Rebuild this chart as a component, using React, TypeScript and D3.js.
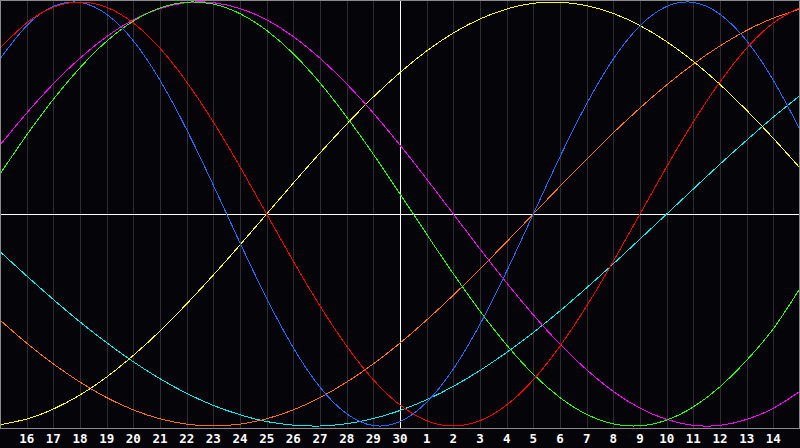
import React from "react";
import * as d3 from "d3";

// Day labels: index 0 is the 15th (left edge), index 30 the 15th of next month (right edge)
const dayLabels = [
  "15", "16", "17", "18", "19", "20", "21", "22", "23", "24", "25", "26", "27", "28", "29", "30",
  "1", "2", "3", "4", "5", "6", "7", "8", "9", "10", "11", "12", "13", "14", "15",
];
const todayIndex = 15;

// Values (-100..100) read at each day index 0..30
const red = [78.2, 90.1, 97.5, 100, 97.5, 90.1, 78.2, 62.3, 43.4, 22.3, 0, -22.3, -43.4, -62.3, -78.2, -90.1, -97.5, -100, -97.5, -90.1, -78.2, -62.3, -43.4, -22.3, 0, 22.3, 43.4, 62.3, 78.2, 90.1, 97.5];
const blue = [73.1, 88.8, 97.9, 99.8, 94.2, 81.7, 63.1, 39.8, 13.6, -13.6, -39.8, -63.1, -81.7, -94.2, -99.8, -97.9, -88.8, -73.1, -52.0, -27.0, 0, 27.0, 52.0, 73.1, 88.8, 97.9, 99.8, 94.2, 81.7, 63.1, 39.8];
const green = [18.9, 37.2, 54.1, 69.0, 81.5, 91.0, 97.2, 99.9, 99.0, 94.5, 86.6, 75.6, 61.8, 45.8, 28.2, 9.5, -9.5, -28.2, -45.8, -61.8, -75.6, -86.6, -94.5, -99.0, -99.9, -97.2, -91.0, -81.5, -69.0, -54.1, -35.0];
const magenta = [32.5, 47.6, 61.4, 73.5, 83.7, 91.6, 96.9, 99.7, 99.7, 96.9, 91.6, 83.7, 73.5, 61.4, 47.6, 32.5, 16.5, 0, -16.5, -32.5, -47.6, -61.4, -73.5, -83.7, -91.6, -96.9, -99.7, -99.7, -96.9, -91.6, -83.7];
const yellow = [-99.4, -96.7, -92.0, -85.4, -76.9, -66.7, -55.2, -42.4, -28.8, -14.6, 0, 14.6, 28.8, 42.4, 55.2, 66.7, 76.9, 85.4, 92.0, 96.7, 99.4, 99.9, 98.3, 94.6, 88.9, 81.3, 72.0, 61.1, 48.9, 35.7, 21.7];
const orange = [-50, -60.9, -70.7, -79.3, -86.6, -92.4, -96.6, -99.1, -100, -99.1, -96.6, -92.4, -86.6, -79.3, -70.7, -60.9, -50, -38.3, -25.9, -13.1, 0, 13.1, 25.9, 38.3, 50, 60.9, 70.7, 79.3, 86.6, 92.4, 96.6];
const cyan = [-17.7, -29.2, -40.3, -50.9, -60.7, -69.7, -77.7, -84.6, -90.3, -94.7, -97.9, -99.6, -100, -98.9, -96.5, -92.7, -87.6, -81.3, -73.8, -65.3, -55.9, -45.7, -34.8, -23.5, -11.8, 0, 11.8, 23.5, 34.8, 45.7, 55.9];

const seriesNames = ["cyan", "orange", "yellow", "magenta", "green", "blue", "red"];
const seriesData = [cyan, orange, yellow, magenta, green, blue, red];
const seriesColors = ["#00f0f0", "#ff7000", "#ffff00", "#ff00ff", "#22ff00", "#1a6cff", "#ff0000"];

const W = 800;
const H = 448;
const plotTop = 0;
const plotBottom = 428;

export default function App() {
  const x = d3.scaleLinear().domain([0, 30]).range([0, 800]);
  const y = d3.scaleLinear().domain([-100, 100]).range([426, 2]);
  const line = d3
    .line<number>()
    .x((_, i) => x(i))
    .y((d) => y(d))
    .curve(d3.curveNatural);

  const gridIdx = d3.range(1, 30);

  return (
    <div style={{ position: "fixed", left: 0, top: 0, width: W, height: H, background: "#050408" }}>
      <svg width={W} height={H} style={{ display: "block" }}>
        <rect x={0} y={0} width={W} height={H} fill="#050408" />
        {gridIdx.map((i) => (
          <line
            key={"g" + i}
            x1={Math.round(x(i)) + 0.5}
            x2={Math.round(x(i)) + 0.5}
            y1={plotTop}
            y2={plotBottom}
            stroke="#2e2d31"
            strokeWidth={1}
            shapeRendering="crispEdges"
          />
        ))}
        <line x1={0} x2={W} y1={214.5} y2={214.5} stroke="#ffffff" strokeWidth={1.5} shapeRendering="crispEdges" />
        <line
          x1={Math.round(x(todayIndex)) + 0.5}
          x2={Math.round(x(todayIndex)) + 0.5}
          y1={plotTop}
          y2={plotBottom}
          stroke="#ffffff"
          strokeWidth={1.5}
          shapeRendering="crispEdges"
        />
        {seriesData.map((s, k) => (
          <path
            key={seriesNames[k]}
            d={line(s) || ""}
            fill="none"
            stroke={seriesColors[k]}
            strokeWidth={1}
            shapeRendering="crispEdges"
          />
        ))}
        {/* border */}
        <line x1={0.5} x2={0.5} y1={0} y2={plotBottom} stroke="#8a8a8a" shapeRendering="crispEdges" />
        <line x1={W - 0.5} x2={W - 0.5} y1={0} y2={plotBottom} stroke="#8a8a8a" shapeRendering="crispEdges" />
        <line x1={0} x2={W} y1={0.5} y2={0.5} stroke="#8a8a8a" shapeRendering="crispEdges" />
        <line x1={0} x2={W} y1={plotBottom + 0.5} y2={plotBottom + 0.5} stroke="#8a8a8a" strokeWidth={1.5} shapeRendering="crispEdges" />
        {gridIdx.map((i) => (
          <text
            key={"t" + i}
            x={x(i)}
            y={443}
            textAnchor="middle"
            fill="#ffffff"
            fontFamily="'DejaVu Sans Mono', monospace"
            fontWeight="bold"
            fontSize={12.5}
          >
            {dayLabels[i]}
          </text>
        ))}
      </svg>
    </div>
  );
}
